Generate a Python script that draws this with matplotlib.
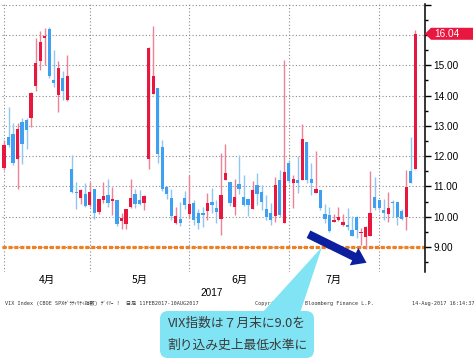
import matplotlib
matplotlib.use("Agg")
import matplotlib.pyplot as plt
from matplotlib.patches import Polygon, FancyBboxPatch, FancyArrowPatch

# VIX daily candles, 31 Mar 2017 .. 10 Aug 2017
opens = [11.60, 12.62, 12.73, 11.89, 13.13, 13.19, 13.25, 14.31, 15.15, 15.89,
         16.19, 14.51, 14.02, 14.59, 13.85, 11.56, 10.82, 10.62, 10.74, 10.38,
         10.93, 10.16, 10.55, 10.71, 10.51, 10.55, 9.86, 9.75, 10.33, 10.74,
         10.55, 10.46, 11.89, 14.05, 14.24, 12.31, 10.99, 10.62, 9.80, 9.94,
         10.62, 10.10, 10.44, 10.11, 10.13, 10.20, 10.49, 10.29, 9.94, 11.21,
         11.15, 10.33, 11.08, 10.66, 10.60, 10.27, 11.04, 10.82, 10.27, 10.13,
         10.02, 11.21, 9.78, 11.78, 11.10, 11.21, 11.21, 12.47, 11.26, 10.79,
         10.87, 10.10, 10.05, 9.83, 9.90, 9.72, 9.72, 9.56, 9.98, 9.46,
         9.33, 9.38, 10.65, 10.54, 10.21, 10.10, 10.49, 10.49, 10.19, 9.99,
         11.51, 11.59]
highs = [12.53, 13.61, 13.08, 13.08, 13.25, 13.25, 14.13, 15.89, 16.14, 16.22,
         16.28, 15.50, 15.15, 14.81, 15.34, 12.03, 11.15, 10.93, 11.10, 11.15,
         10.93, 10.60, 11.15, 11.26, 10.99, 10.55, 10.13, 10.27, 11.26, 10.90,
         10.88, 10.71, 15.60, 16.31, 14.24, 12.53, 11.01, 10.90, 10.32, 10.49,
         10.85, 11.37, 10.55, 10.27, 10.33, 10.80, 10.96, 10.55, 12.12, 12.40,
         11.15, 11.26, 12.03, 11.37, 10.60, 11.17, 11.43, 11.04, 10.71, 10.44,
         11.32, 11.54, 15.17, 11.87, 11.37, 12.00, 13.05, 12.47, 11.76, 12.18,
         10.87, 10.41, 10.32, 10.08, 10.32, 10.08, 10.30, 10.03, 10.03, 9.63,
         9.69, 11.52, 11.31, 10.54, 10.58, 10.82, 10.55, 10.49, 10.27, 11.54,
         12.64, 16.16]
lows = [11.54, 12.31, 11.70, 10.93, 11.74, 12.25, 12.97, 14.16, 14.84, 15.01,
        14.57, 14.29, 13.47, 13.85, 13.82, 10.79, 10.24, 10.42, 10.32, 10.32,
        9.94, 10.10, 10.44, 10.32, 10.05, 9.69, 9.58, 9.61, 10.30, 10.30,
        10.38, 10.21, 11.56, 14.05, 11.76, 10.85, 10.60, 9.88, 9.75, 9.69,
        10.27, 9.97, 9.72, 9.61, 9.67, 9.89, 10.13, 9.78, 9.39, 11.21,
        10.35, 10.05, 10.74, 10.36, 10.02, 10.27, 10.38, 10.22, 9.88, 9.72,
        9.83, 9.99, 9.78, 11.10, 10.30, 10.79, 11.21, 11.12, 10.71, 10.77,
        10.21, 9.78, 9.50, 9.83, 9.86, 9.70, 9.55, 9.36, 9.30, 9.08,
        8.92, 9.36, 10.21, 10.21, 9.88, 9.83, 9.98, 9.72, 9.88, 9.55,
        11.10, 11.59]
closes = [12.36, 12.36, 11.79, 12.91, 12.40, 12.86, 14.07, 15.09, 15.78, 15.98,
          14.64, 14.40, 14.92, 14.16, 14.64, 10.82, 10.77, 10.88, 10.37, 10.83,
          10.14, 10.58, 10.69, 10.46, 10.60, 9.77, 9.97, 10.24, 10.63, 10.41,
          10.41, 10.68, 15.58, 14.66, 12.07, 10.93, 10.74, 10.02, 10.02, 9.80,
          10.38, 10.41, 9.89, 9.78, 10.07, 10.47, 10.38, 10.16, 10.71, 11.46,
          10.44, 10.66, 10.91, 10.40, 10.38, 10.88, 10.74, 10.49, 9.99, 9.89,
          11.06, 10.05, 11.48, 11.19, 11.24, 11.10, 12.55, 11.21, 11.10, 10.93,
          10.30, 9.91, 9.52, 9.88, 9.98, 9.83, 9.65, 9.36, 9.57, 9.49,
          9.66, 10.12, 10.30, 10.30, 10.11, 10.29, 10.44, 9.99, 9.94, 10.99,
          11.10, 16.04]

month_ends = [0, 19, 41, 63, 83]          # last trading day of Mar..Jul
month_names = ['4月', '5月', '6月', '7月']
year_label = '2017'
y_ticks = [9, 10, 11, 12, 13, 14, 15, 16, 17]
last_value = 16.04
record_low = 9.0

red, blue = '#e8173f', '#3f9ff0'
red_wick, blue_wick = '#ef8095', '#90c6f2'

fig = plt.figure(figsize=(4.75, 3.62), dpi=100)
ax = fig.add_axes([2/475, 1-272/362, 423/475, 268/362])

x = list(range(len(opens)))
up = [c >= o for o, c in zip(opens, closes)]
bottoms = [min(o, c) for o, c in zip(opens, closes)]
heights = [max(abs(c - o), 0.04) for o, c in zip(opens, closes)]
ax.vlines(x, lows, highs, colors=[red_wick if u else blue_wick for u in up],
          lw=1, zorder=2)
ax.bar(x, heights, bottom=bottoms, width=0.72,
       color=[red if u else blue for u in up], zorder=3)

ax.axhline(record_low, color='#f07f1f', lw=2.3, ls=(0, (1.3, 0.55)), zorder=1.5)

ax.set_xlim(-0.44, 93.14)
ax.set_ylim(8.176, 17.023)

for s in ['left', 'top', 'bottom']:
    ax.spines[s].set_visible(False)
ax.spines['right'].set_linewidth(1.1)

ax.yaxis.tick_right()
ax.set_yticks(y_ticks)
ax.set_yticklabels(['%.2f' % v if v <= 15 else '' for v in y_ticks],
                   family='Liberation Sans', fontsize=7.2)
ax.set_yticks([v + 0.5 for v in range(8, 17)], minor=True)
ax.tick_params(axis='y', which='major', direction='out', length=4, width=1, pad=2)
ax.tick_params(axis='y', which='minor', direction='out', length=2.5, width=1)

ax.set_xticks(month_ends)
ax.set_xticklabels([])
centers = [(a + b) / 2 for a, b in zip(month_ends[:-1], month_ends[1:])]
ax.set_xticks(centers, minor=True)
ax.set_xticklabels(month_names, minor=True, family=['Noto Sans CJK JP'], fontsize=7.5)
ax.tick_params(axis='x', which='both', length=0, pad=2)
ax.text(46, -0.06, year_label, transform=ax.get_xaxis_transform(),
        ha='center', va='top', family='Liberation Sans', fontsize=7.2)

ax.grid(True, which='major', ls=(0, (1, 2)), color='#8a8a8a', lw=0.8)
ax.set_axisbelow(True)

# last value tag
t = ax.get_yaxis_transform()
dx, dy = 1/423, 1/30.29
tag = Polygon([(1.0, last_value), (1 + 6*dx, last_value + 6*dy),
               (1 + 48*dx, last_value + 6*dy), (1 + 48*dx, last_value - 6*dy),
               (1 + 6*dx, last_value - 6*dy)], closed=True, transform=t,
              fc=red, ec='none', clip_on=False, zorder=5)
ax.add_patch(tag)
ax.text(1 + 9*dx, last_value, '%.2f' % last_value, transform=t, color='white',
        ha='left', va='center', family='Liberation Sans', fontsize=7.2,
        clip_on=False, zorder=6)

# footer
foot = ['DejaVu Sans Mono', 'Noto Sans CJK JP']
fig.text(5/475, 1-303/362, 'VIX Index (CBOE SPXﾎﾞﾗﾃｨﾘﾃｨ指数) ﾃﾞｲﾘｰ !  日足 11FEB2017-10AUG2017',
         family=foot, fontsize=3.7, color='#333333', va='center')
fig.text(255/475, 1-303/362, 'Copyright© 2017 Bloomberg Finance L.P.',
         family=foot, fontsize=3.7, color='#333333', va='center')
fig.text(474/475, 1-303/362, '14-Aug-2017 16:14:37',
         family=foot, fontsize=3.7, color='#333333', va='center', ha='right')


def px(x, y):
    return (x / 100, (362 - y) / 100)


tr = fig.dpi_scale_trans
cyan = '#80e4f4'
fig.add_artist(FancyBboxPatch(px(160, 358), 1.54, 0.47, transform=tr,
                              boxstyle='round,pad=0,rounding_size=0.08',
                              fc=cyan, ec='none', zorder=10))
fig.add_artist(Polygon([px(262, 313), px(300, 313), px(322, 247)], closed=True,
                       transform=tr, fc=cyan, ec='none', zorder=10))
fig.text(*px(237, 323), 'VIX指数は７月末に9.0を', transform=tr, ha='center',
         va='center', family=['Noto Sans CJK JP'], fontsize=9.2, color='#3a3a3a', zorder=11)
fig.text(*px(237, 345), '割り込み史上最低水準に', transform=tr, ha='center',
         va='center', family=['Noto Sans CJK JP'], fontsize=9.2, color='#3a3a3a', zorder=11)

fig.add_artist(FancyArrowPatch(px(306, 233), px(369, 264), transform=tr,
                               arrowstyle='simple,head_length=1.0,head_width=1.4,tail_width=0.6',
                               mutation_scale=10, color='#0b1f9f', lw=0, zorder=10))

fig.savefig('out.png', dpi=100)
